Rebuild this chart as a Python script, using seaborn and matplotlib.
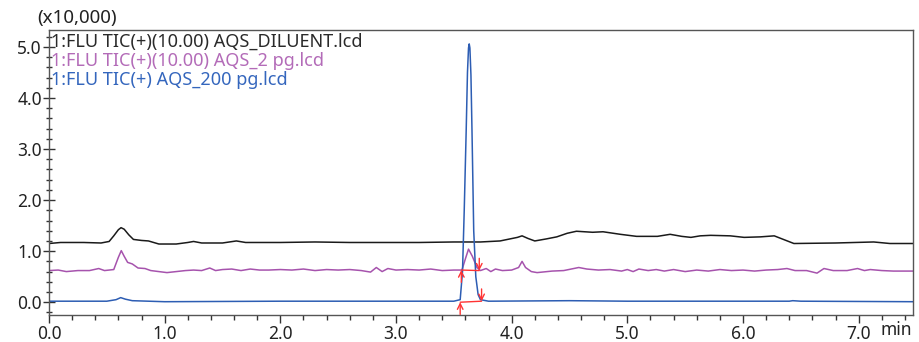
import pandas as pd
import matplotlib.pyplot as plt
import seaborn as sns
from matplotlib.ticker import MultipleLocator, FormatStrFormatter

# Trace points (time in min, intensity x10,000)
diluent_t = [0.0, 0.1, 0.3, 0.45, 0.52, 0.56, 0.60, 0.623, 0.65, 0.69, 0.73, 0.80, 0.86, 0.95,
             1.10, 1.20, 1.25, 1.32, 1.50, 1.62, 1.70, 2.0, 2.3, 2.6, 2.9, 3.2, 3.5, 3.73, 3.9,
             4.05, 4.09, 4.14, 4.20, 4.30, 4.39, 4.48, 4.56, 4.70, 4.79, 4.94, 5.08, 5.26, 5.37,
             5.47, 5.55, 5.63, 5.72, 5.89, 6.01, 6.15, 6.27, 6.44, 6.8, 7.13, 7.27, 7.47]
diluent_y = [1.15, 1.17, 1.17, 1.16, 1.19, 1.30, 1.42, 1.46, 1.43, 1.32, 1.23, 1.21, 1.20, 1.14,
             1.14, 1.17, 1.19, 1.16, 1.16, 1.20, 1.17, 1.17, 1.18, 1.17, 1.17, 1.17, 1.18, 1.18, 1.20,
             1.27, 1.30, 1.25, 1.20, 1.24, 1.28, 1.35, 1.39, 1.37, 1.38, 1.33, 1.29, 1.29, 1.33,
             1.29, 1.27, 1.30, 1.31, 1.30, 1.27, 1.28, 1.30, 1.15, 1.16, 1.18, 1.15, 1.15]

pg2_t = [0.0, 0.08, 0.15, 0.25, 0.35, 0.43, 0.48, 0.56, 0.60, 0.625, 0.65, 0.68, 0.72, 0.77,
         0.83, 0.88, 0.95, 1.02, 1.10, 1.18, 1.25, 1.32, 1.39, 1.44, 1.50, 1.58, 1.66, 1.74,
         1.82, 1.90, 2.0, 2.1, 2.2, 2.3, 2.4, 2.5, 2.6, 2.7, 2.78, 2.83, 2.88, 2.93, 3.0, 3.1,
         3.2, 3.3, 3.4, 3.5, 3.57, 3.60, 3.627, 3.66, 3.70, 3.73, 3.78, 3.82, 3.86, 3.92, 4.0,
         4.06, 4.09, 4.12, 4.17, 4.22, 4.35, 4.45, 4.58, 4.65, 4.75, 4.85, 4.95, 5.0, 5.05, 5.1,
         5.18, 5.25, 5.32, 5.4, 5.5, 5.6, 5.7, 5.8, 5.9, 6.0, 6.1, 6.2, 6.3, 6.38, 6.45, 6.55,
         6.64, 6.70, 6.78, 6.9, 6.99, 7.05, 7.1, 7.2, 7.3, 7.47]
pg2_y = [0.62, 0.63, 0.60, 0.62, 0.62, 0.66, 0.62, 0.64, 0.88, 1.01, 0.90, 0.78, 0.75, 0.67,
         0.66, 0.62, 0.60, 0.58, 0.60, 0.62, 0.63, 0.62, 0.67, 0.62, 0.64, 0.65, 0.62, 0.65,
         0.63, 0.63, 0.64, 0.63, 0.65, 0.62, 0.64, 0.63, 0.64, 0.62, 0.59, 0.68, 0.60, 0.66, 0.63, 0.64,
         0.63, 0.65, 0.62, 0.63, 0.63, 0.85, 1.04, 0.90, 0.68, 0.62, 0.66, 0.60, 0.65, 0.62, 0.63,
         0.68, 0.80, 0.68, 0.60, 0.58, 0.61, 0.62, 0.68, 0.65, 0.63, 0.64, 0.61, 0.64, 0.60, 0.65,
         0.62, 0.64, 0.61, 0.64, 0.60, 0.63, 0.61, 0.64, 0.62, 0.63, 0.61, 0.63, 0.64, 0.66, 0.62, 0.62,
         0.57, 0.66, 0.62, 0.62, 0.66, 0.62, 0.64, 0.62, 0.61, 0.61]

pg200_t = [0.0, 0.5, 0.58, 0.62, 0.66, 0.72, 1.0, 2.0, 3.0, 3.50, 3.555, 3.575, 3.59, 3.607,
           3.618, 3.627, 3.633, 3.639, 3.648, 3.657, 3.672, 3.69, 3.71, 3.73, 3.80, 4.5, 5.0,
           6.4, 6.43, 6.5, 7.47]
pg200_y = [0.02, 0.02, 0.05, 0.09, 0.06, 0.03, 0.01, 0.02, 0.02, 0.02, 0.05, 0.6, 1.8, 3.37,
           4.5, 4.98, 5.06, 4.98, 4.45, 3.37, 1.4, 0.5, 0.15, 0.05, 0.02, 0.03, 0.02,
           0.02, 0.03, 0.02, 0.01]

# peak integration start / end points (time, height)
pg2_start = (3.565, 0.63)
pg2_end = (3.72, 0.62)
pg200_start = (3.555, 0.0)
pg200_end = (3.74, 0.02)

labels = ["1:FLU TIC(+)(10.00) AQS_DILUENT.lcd",
          "1:FLU TIC(+)(10.00) AQS_2 pg.lcd",
          "1:FLU TIC(+) AQS_200 pg.lcd"]
line_colors = ["#1a1a1a", "#a653ad", "#2d5db3"]
text_colors = ["#2a2a2a", "#b36bb8", "#3466bd"]

df = pd.concat([
    pd.DataFrame({"t": diluent_t, "y": diluent_y, "trace": labels[0]}),
    pd.DataFrame({"t": pg2_t, "y": pg2_y, "trace": labels[1]}),
    pd.DataFrame({"t": pg200_t, "y": pg200_y, "trace": labels[2]}),
])

sns.set_style("ticks")
plt.rcParams["font.family"] = ["Noto Sans", "DejaVu Sans"]

fig = plt.figure(figsize=(9.19, 3.42), dpi=100)
ax = fig.add_axes([0.0533, 0.079, 0.9402, 0.833])

sns.lineplot(data=df, x="t", y="y", hue="trace", palette=dict(zip(labels, line_colors)),
             sort=False, estimator=None, legend=False, linewidth=1.1, ax=ax)

# red integration markers
red = "#ff3333"
for s, e in [(pg2_start, pg2_end), (pg200_start, pg200_end)]:
    ax.plot([s[0], e[0]], [s[1], e[1]], color=red, lw=1.0)
    ax.annotate("", xy=s, xytext=(s[0], s[1] - 0.24),
                arrowprops=dict(arrowstyle="->", color=red, lw=1.0, shrinkA=0, shrinkB=0))
    ax.annotate("", xy=e, xytext=(e[0], e[1] + 0.24),
                arrowprops=dict(arrowstyle="->", color=red, lw=1.0, shrinkA=0, shrinkB=0))

ax.set_xlim(0, 7.47)
ax.set_ylim(-0.25, 5.33)
ax.xaxis.set_major_locator(MultipleLocator(1.0))
ax.xaxis.set_minor_locator(MultipleLocator(0.2))
ax.yaxis.set_major_locator(MultipleLocator(1.0))
ax.yaxis.set_minor_locator(MultipleLocator(0.2))
ax.xaxis.set_major_formatter(FormatStrFormatter("%.1f"))
ax.yaxis.set_major_formatter(FormatStrFormatter("%.1f"))
ax.tick_params(axis="both", which="major", labelsize=12.5, colors="#333333", labelcolor="#222222")
ax.tick_params(axis="x", which="major", direction="out", length=6, width=1, pad=1.5)
ax.tick_params(axis="x", which="minor", direction="out", length=3.5, width=1, colors="#333333")
ax.tick_params(axis="y", which="major", direction="inout", length=8, width=1, pad=1)
ax.tick_params(axis="y", which="minor", direction="inout", length=5, width=1, colors="#333333")
ax.set_xlabel("")
ax.set_ylabel("")
for sp in ax.spines.values():
    sp.set_visible(True)
    sp.set_color("#555555")
    sp.set_linewidth(1.0)

for i, (lab, col) in enumerate(zip(labels, text_colors)):
    ax.text(0.002, 0.958 - 0.067 * i, lab, transform=ax.transAxes, color=col,
            fontsize=13, va="center", ha="left")

fig.text(0.041, 0.947, "(x10,000)", fontsize=13.5, color="#222222", va="center", ha="left")
fig.text(0.975, 0.035, "min", fontsize=12.5, color="#222222", va="center", ha="center")

fig.savefig("out.png", dpi=100)
